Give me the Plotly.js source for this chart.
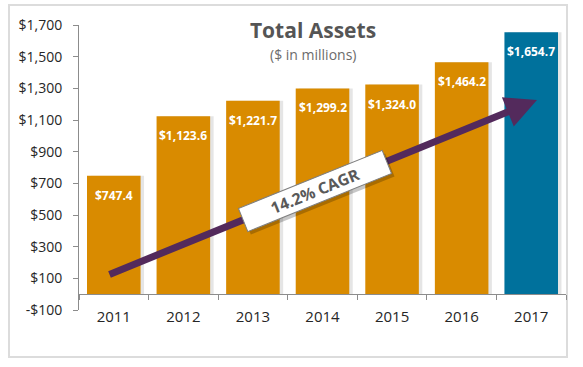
<!DOCTYPE html>
<html><head><meta charset="utf-8">
<script src="https://cdn.plot.ly/plotly-3.0.1.min.js"></script>
<style>html,body{margin:0;padding:0;background:#fff}#chart{width:583px;height:367px}</style>
</head><body><div id="chart"></div>
<script>
const years = ['2011','2012','2013','2014','2015','2016','2017'];
const assets = [747.4, 1123.6, 1221.7, 1299.2, 1324.0, 1464.2, 1654.7];
const barLabels = ['$747.4','$1,123.6','$1,221.7','$1,299.2','$1,324.0','$1,464.2','$1,654.7'];
const barColors = ['#D98B00','#D98B00','#D98B00','#D98B00','#D98B00','#D98B00','#00719C'];
const tickVals = [-100,100,300,500,700,900,1100,1300,1500,1700];
const tickText = ['-$100','$100','$300','$500','$700','$900','$1,100','$1,300','$1,500','$1,700'];
const cagrText = '14.2% CAGR';
const yRange = [-100, 1700];

const font = 'Open Sans, sans-serif';

const shadow = {
  type:'bar', x: years, y: assets, width: 0.77, offset: -0.385 + 0.05,
  marker:{color:'rgba(0,0,0,0.10)'}, hoverinfo:'skip', showlegend:false
};
const bars = {
  type:'bar', x: years, y: assets, width: 0.77, offset: -0.385,
  marker:{color: barColors}, hoverinfo:'skip', showlegend:false
};

const labelAnns = years.map((yr,i)=>({
  x: i, y: assets[i], xref:'x', yref:'y', xanchor:'center', yanchor:'top', yshift:-9,
  text:'<b>'+barLabels[i]+'</b>', showarrow:false,
  font:{family:font, size:12, color:'#ffffff'}
}));

const W = 487, H = 285;
const layout = {
  width:583, height:367,
  margin:{l:79, r:17, t:25, b:57},
  paper_bgcolor:'#ffffff', plot_bgcolor:'rgba(0,0,0,0)',
  barmode:'overlay',
  title:{text:'<b>Total Assets</b>', font:{family:font, size:21, color:'#555555'},
    x:(313-79)/W, xref:'paper', xanchor:'center', y:1-31/367, yref:'container', yanchor:'middle'},
  xaxis:{type:'category', range:[-0.5, years.length-0.5], anchor:'free',
    position:(0-yRange[0])/(yRange[1]-yRange[0]),
    showline:true, linecolor:'#8c8c8c', linewidth:1, ticks:'outside', tickson:'boundaries',
    ticklen:5, tickcolor:'#8c8c8c', showgrid:false, ticklabelstandoff:9,
    tickfont:{family:font, size:15, color:'#262626'}, fixedrange:true},
  yaxis:{range:yRange, tickvals:tickVals, ticktext:tickText, showline:true, linecolor:'#8c8c8c',
    linewidth:1, ticks:'outside', ticklen:5, tickcolor:'#8c8c8c', showgrid:false, zeroline:false,
    ticklabelstandoff:8, tickfont:{family:font, size:14, color:'#262626'}, fixedrange:true},
  shapes:[
    {type:'rect', xref:'paper', yref:'paper', x0:(9-79)/W, x1:(567-79)/W, y0:(310-357)/H, y1:(310-5)/H,
     line:{color:'#dcdcdc', width:2}, fillcolor:'rgba(0,0,0,0)', layer:'below'}
  ],
  annotations:[
    {text:'($ in millions)', xref:'paper', yref:'paper', x:(313-79)/W, y:(310-54)/H,
     xanchor:'center', yanchor:'middle',
     showarrow:false, font:{family:font, size:14, color:'#6b6b6b'}},
    ...labelAnns,
    {xref:'paper', yref:'paper', x:(537-79)/W, y:(310-100)/H, axref:'pixel', ayref:'pixel',
     ax:108-537, ay:275-100,
     text:'', showarrow:true, arrowhead:2, arrowsize:0.9, arrowwidth:7, arrowcolor:'#532A5C'},
    {xref:'paper', yref:'paper', x:(315-79)/W, y:(310-191)/H, xanchor:'center', yanchor:'middle',
     xshift:3, yshift:-3,
     text:' ', showarrow:false, textangle:-22, width:150, height:20, borderpad:2,
     bgcolor:'rgba(0,0,0,0.22)', font:{family:font, size:16}},
    {xref:'paper', yref:'paper', x:(315-79)/W, y:(310-191)/H, xanchor:'center', yanchor:'middle',
     text:'<b>'+cagrText+'</b>', showarrow:false, textangle:-22, width:150, height:20, borderpad:2,
     bgcolor:'#ffffff', bordercolor:'#7f7f7f', borderwidth:1,
     font:{family:font, size:16, color:'#595959'}}
  ]
};
Plotly.newPlot('chart', [shadow, bars], layout, {displayModeBar:false, staticPlot:true});
</script></body></html>
